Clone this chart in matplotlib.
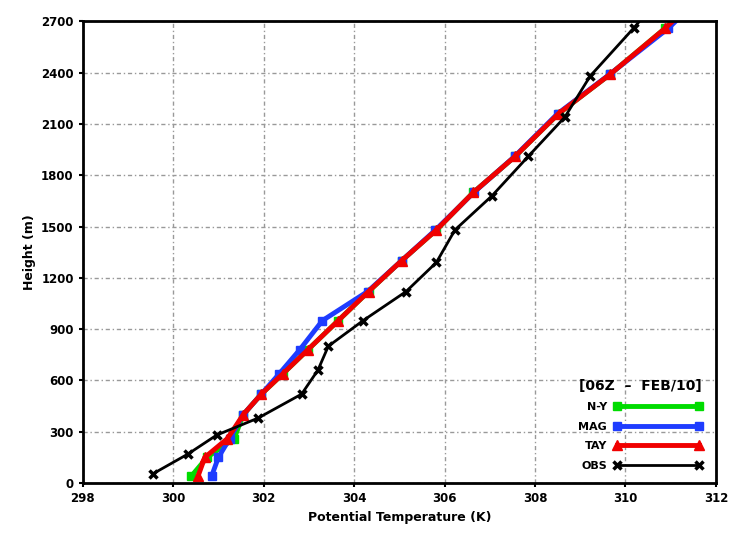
import matplotlib
matplotlib.use("Agg")
import matplotlib.pyplot as plt

# heights (m) for the model runs and the observed sounding
model_z = [40, 150, 260, 400, 520, 640, 780, 950, 1120, 1300, 1480, 1700, 1910, 2160, 2390, 2660, 2900]
ny_theta = [300.4, 300.75, 301.35, 301.55, 301.95, 302.43, 302.98, 303.65, 304.32, 305.05, 305.82,
            306.64, 307.56, 308.52, 309.66, 310.88, 311.85]
mag_theta = [300.85, 301.0, 301.25, 301.55, 301.95, 302.35, 302.8, 303.3, 304.3, 305.05, 305.8,
             306.65, 307.55, 308.5, 309.65, 310.95, 311.9]
tay_theta = [300.55, 300.7, 301.2, 301.55, 301.95, 302.43, 302.98, 303.65, 304.32, 305.05, 305.82,
             306.64, 307.56, 308.52, 309.66, 310.88, 311.85]

obs_z = [55, 170, 280, 380, 520, 660, 800, 950, 1120, 1290, 1480, 1680, 1910, 2140, 2380, 2660, 2900]
obs_theta = [299.56, 300.33, 300.96, 301.88, 302.84, 303.2, 303.43, 304.2, 305.15, 305.82, 306.23,
             307.05, 307.85, 308.66, 309.22, 310.18, 310.95]

xticks = list(range(298, 313, 2))
yticks = list(range(0, 2701, 300))

fig = plt.figure(figsize=(7.32, 5.34), dpi=100)
ax = fig.add_axes([0.113, 0.0955, 0.865, 0.8645])

ax.plot(ny_theta, model_z, color="#00dc00", lw=3.5, marker="s", ms=6, label="N-Y")
ax.plot(mag_theta, model_z, color="#1e3cff", lw=3.5, marker="s", ms=6, label="MAG")
ax.plot(tay_theta, model_z, color="#f00000", lw=3.5, marker="^", ms=7, label="TAY")
ax.plot(obs_theta, obs_z, color="black", lw=2, marker="x", ms=6, mew=2.5, label="OBS")

ax.set_xlim(298, 312)
ax.set_ylim(0, 2700)
ax.set_xticks(xticks)
ax.set_yticks(yticks)
ax.tick_params(labelsize=8.5, length=3, width=1.5, direction="out")
for lab in ax.get_xticklabels() + ax.get_yticklabels():
    lab.set_fontweight("bold")

ax.grid(True, color="#999999", lw=1, linestyle=(0, (3, 2, 1, 2)))
for sp in ax.spines.values():
    sp.set_linewidth(2)

ax.set_xlabel("Potential Temperature (K)", fontsize=9, fontweight="bold", labelpad=4)
ax.set_ylabel("Height (m)", fontsize=9, fontweight="bold", labelpad=4)

leg = ax.legend(loc="lower right", bbox_to_anchor=(0.995, 0.005), frameon=False, markerfirst=False,
                numpoints=2, handlelength=8, handletextpad=0.6, fontsize=8,
                title="[06Z  \u2013  FEB/10]", title_fontsize=10, labelspacing=0.85)
for t in leg.get_texts():
    t.set_fontweight("bold")
leg.get_title().set_fontweight("bold")

fig.savefig("out.png", dpi=100)
